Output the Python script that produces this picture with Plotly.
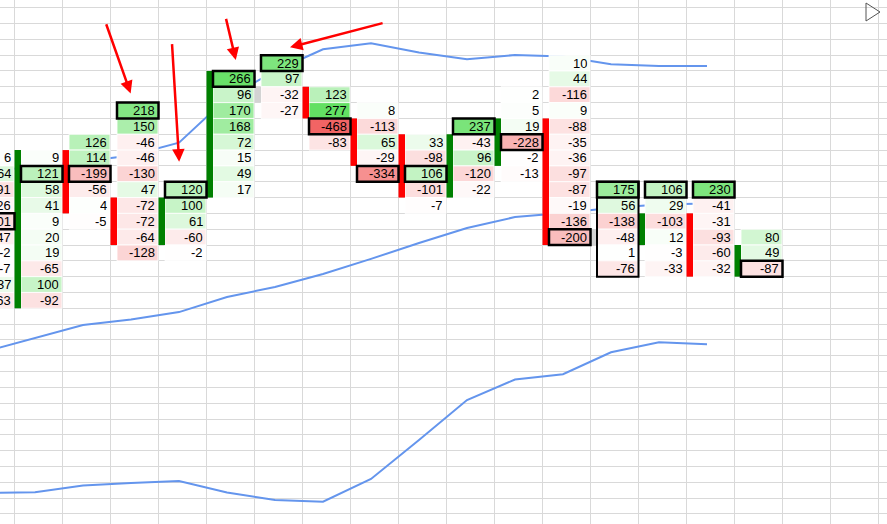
import plotly.graph_objects as go

# sheet geometry (px)
W, H = 887, 524
COL_W, ROW_H = 48.0, 15.82
X0, Y0 = 14.5, 7.7
BAR_W = 6.5

# ---- data ----------------------------------------------------------------
groups = list(range(-1, 16))
first_row = [9, 9, 8, 6, 11, 4, 3, 5, 6, 8, 7, 5, 3, 11, 11, 11, 14]
cells = [
    [6, 64, -91, -26, -101, -47, -2, -7, 37, -63],
    [9, 121, 58, 41, 9, 20, 19, -65, 100, -92],
    [126, 114, -199, -56, 4, -5],
    [218, 150, -46, -46, -130, 47, -72, -72, -64, -128],
    [120, 100, 61, -60, -2],
    [266, 96, 170, 168, 72, 15, 49, 17],
    [229, 97, -32, -27],
    [123, 277, -468, -83],
    [8, -113, 65, -29, -334],
    [33, -98, 106, -101, -7],
    [237, -43, 96, -120, -22],
    [2, 5, 19, -228, -2, -13],
    [10, 44, -116, 9, -88, -35, -36, -97, -87, -19, -136, -200],
    [175, 56, -138, -48, 1, -76],
    [106, 29, -103, 12, -3, -33],
    [230, -41, -31, -93, -60, -32],
    [80, 49, -87],
]
boxed_group = [-1, 0, 1, 2, 3, 4, 5, 6, 7, 8, 9, 10, 11, 12, 13, 14, 15]
boxed_row = [13, 10, 10, 6, 11, 4, 3, 7, 10, 10, 7, 8, 14, 11, 11, 11, 16]

bar_group = [0, 1, 2, 3, 4, 6, 7, 8, 9, 10, 11, 13, 14, 15]
bar_up = [True, False, False, True, True, False, False, False, True, True, False, True, False, True]
bar_from = [9, 9, 12, 12, 4, 5, 7, 8, 8, 7, 7, 13, 13, 15]
bar_to = [18, 12, 14, 14, 11, 6, 9, 11, 11, 9, 14, 14, 16, 16]

gray_group = [5, 12]
gray_row = [5, 14]

# overlay line chart, one point per column group (-1..14), in sheet rows
line_x = list(range(-1, 15))
line_top = [10.39, 10.01, 9.72, 9.34, 8.53, 5.71, 4.00, 2.63, 2.25, 2.83, 3.26, 2.99, 3.08, 3.58, 3.69, 3.69]
line_mid = [21.70, 20.88, 20.06, 19.71, 19.24, 18.29, 17.65, 16.83, 15.88, 14.87, 13.93, 13.23, 12.98, 12.66, 12.44, 12.38]
line_bot = [30.68, 30.63, 30.21, 30.04, 29.92, 30.64, 31.12, 31.23, 29.79, 27.33, 24.80, 23.50, 23.17, 21.78, 21.15, 21.28]

# red arrows: (tail x, tail y, tip x, tip y) in sheet units
arrows = [
    (1.90, 0.95, 2.42, 5.42),
    (3.28, 2.21, 3.43, 9.73),
    (4.40, 0.61, 4.61, 3.31),
    (7.70, 0.95, 5.74, 2.50),
]


def cell_color(v):
    if v >= 0:
        t = min(v / 277, 1)
        r = 255 - t * (255 - 99)
        g = 255 - t * (255 - 224)
        return f"rgb({r:.0f},{g:.0f},{r:.0f})"
    t = min(-v / 468, 1)
    r = 255 - t * (255 - 242)
    g = 255 - t * (255 - 100)
    return f"rgb({r:.0f},{g:.0f},{g:.0f})"


px = lambda p: p / COL_W
py = lambda p: p / ROW_H

fig = go.Figure()

line_off = px(20.5)
for ys in (line_top, line_mid, line_bot):
    fig.add_trace(go.Scatter(
        x=[k + line_off for k in line_x], y=ys,
        mode="lines", line=dict(color="#6495ED", width=2),
        hoverinfo="skip", showlegend=False,
    ))

shapes = []
annotations = []
for g, r0, vals in zip(groups, first_row, cells):
    for i, v in enumerate(vals):
        r = r0 + i
        shapes.append(dict(
            type="rect", xref="x", yref="y", layer="above",
            x0=g + px(BAR_W), x1=g + 1 - px(0.5), y0=r, y1=r + 1,
            fillcolor=cell_color(v), line=dict(color="rgba(255,255,255,0.85)", width=1),
        ))
        annotations.append(dict(
            x=g + 1 - px(2.5), y=r + 0.5, xref="x", yref="y",
            text=str(v), showarrow=False, xanchor="right", yanchor="middle",
            height=13, borderpad=0,
            font=dict(family="Liberation Sans, Arial, sans-serif", size=13, color="black"),
        ))

for g, up, a, b in zip(bar_group, bar_up, bar_from, bar_to):
    shapes.append(dict(
        type="rect", xref="x", yref="y", layer="above",
        x0=g, x1=g + px(BAR_W), y0=a, y1=b + 1,
        fillcolor="#008000" if up else "#FF0000", line=dict(width=0),
    ))

for g, r in zip(gray_group, gray_row):
    shapes.append(dict(
        type="rect", xref="x", yref="y", layer="above",
        x0=g, x1=g + px(BAR_W), y0=r, y1=r + 1,
        fillcolor="#D3D3D3", line=dict(width=0),
    ))

# outline around the block of group 12
shapes.append(dict(
    type="rect", xref="x", yref="y", layer="above",
    x0=12 + px(BAR_W), x1=13, y0=11, y1=17,
    line=dict(color="black", width=2),
))

for g, r in zip(boxed_group, boxed_row):
    shapes.append(dict(
        type="rect", xref="x", yref="y", layer="above",
        x0=g + px(BAR_W), x1=g + 1, y0=r, y1=r + 1,
        line=dict(color="black", width=2.5),
    ))

# collapse triangle at top right
tx0, tx1, ty0, ty1 = 866 / W, 880 / W, 1 - 3 / H, 1 - 21 / H
shapes.append(dict(
    type="path", xref="paper", yref="paper", layer="above",
    path=f"M{tx0},{ty0} L{tx0},{ty1} L{tx1},{(ty0 + ty1) / 2} Z",
    line=dict(color="#555555", width=1),
))

for ax_, ay_, x_, y_ in arrows:
    annotations.append(dict(
        x=x_, y=y_, ax=ax_, ay=ay_, xref="x", yref="y", axref="x", ayref="y",
        text="", showarrow=True, arrowhead=2, arrowsize=1, arrowwidth=2.5,
        arrowcolor="#FF0000", standoff=0,
    ))

fig.update_layout(
    width=W, height=H,
    margin=dict(l=0, r=0, t=0, b=0),
    paper_bgcolor="white", plot_bgcolor="white",
    shapes=shapes, annotations=annotations,
    xaxis=dict(range=[px(-X0), px(W - X0)], tick0=0, dtick=1, showgrid=True,
               gridcolor="#D9D9D9", gridwidth=1, zeroline=False,
               showticklabels=False, ticks="", fixedrange=True),
    yaxis=dict(range=[py(H - Y0), py(-Y0)], tick0=0, dtick=1, showgrid=True,
               gridcolor="#D9D9D9", gridwidth=1, zeroline=False,
               showticklabels=False, ticks="", fixedrange=True),
)

fig.write_html(
    "out.html",
    config={"displayModeBar": False},
    post_script="document.body.style.margin='0px';",
)
